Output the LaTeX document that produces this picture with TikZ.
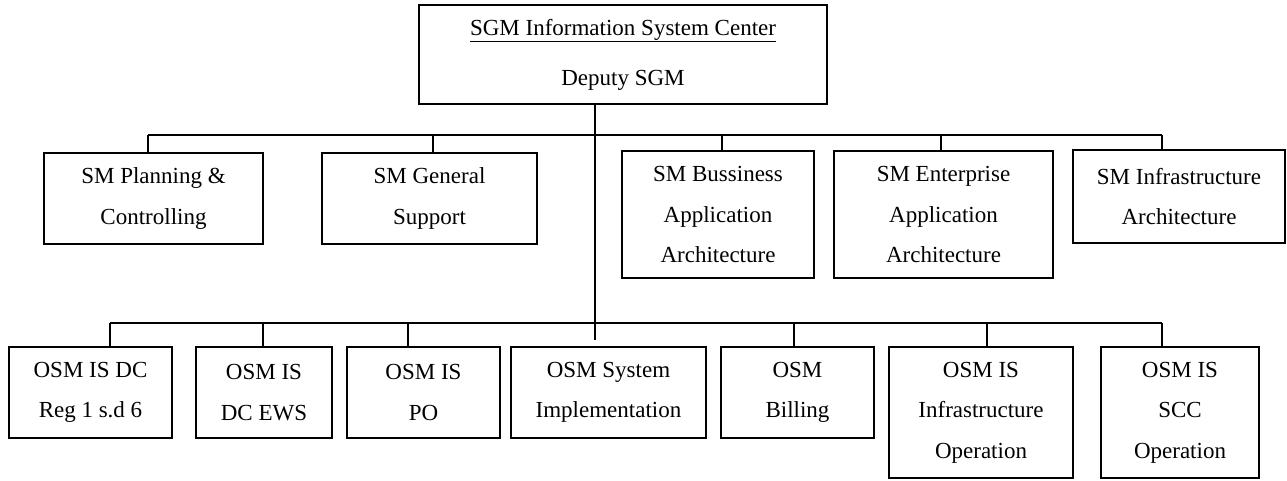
\documentclass[tikz,border=0pt]{standalone}
\usepackage{fontspec}
\setmainfont{Liberation Serif}
\begin{document}
\begin{tikzpicture}[x=1pt,y=-1pt,
  box/.style={draw, line width=1.5pt, inner sep=0pt, align=center, font=\fontsize{23}{40.5}\selectfont},
  conn/.style={line width=1.5pt}]
\useasboundingbox (0,0) rectangle (1287,481);
\node[box, minimum width=408, minimum height=99, font=\fontsize{23}{50}\selectfont] (top) at (623,54.5) {\underline{SGM Information System Center}\\Deputy SGM};
% row 2
\node[box, minimum width=219, minimum height=91] (b1) at (153.5,198.5) {SM Planning \&\\Controlling};
\node[box, minimum width=215, minimum height=91] (b2) at (429.5,198.5) {SM General\\Support};
\node[box, minimum width=192, minimum height=127] (b3) at (718,214.5) {SM Bussiness\\Application\\Architecture};
\node[box, minimum width=219, minimum height=127] (b4) at (943.5,214.5) {SM Enterprise\\Application\\Architecture};
\node[box, minimum width=212, minimum height=93] (b5) at (1179,196.5) {SM Infrastructure\\Architecture};
% row 3
\node[box, minimum width=163, minimum height=91] (c1) at (90.5,392.5) {OSM IS DC\\Reg 1 s.d 6};
\node[box, minimum width=136, minimum height=91] (c2) at (264,392.5) {OSM IS\\DC EWS};
\node[box, minimum width=153, minimum height=91] (c3) at (423.5,392.5) {OSM IS\\PO};
\node[box, minimum width=195, minimum height=91] (c4) at (608.5,392.5) {OSM System\\Implementation};
\node[box, minimum width=153, minimum height=91] (c5) at (797.5,392.5) {OSM\\Billing};
\node[box, minimum width=184, minimum height=131] (c6) at (981,412.5) {OSM IS\\Infrastructure\\Operation};
\node[box, minimum width=158, minimum height=131] (c7) at (1180,412.5) {OSM IS\\SCC\\Operation};
% junctions
\coordinate (v2) at (595,135);
\coordinate (vend) at (595,340);
\coordinate (d1) at (148,135);
\coordinate (d2) at (433,135);
\coordinate (d3) at (722,135);
\coordinate (d4) at (941,135);
\coordinate (d5) at (1162,135);
\coordinate (e1) at (110,323);
\coordinate (e2) at (263,323);
\coordinate (e3) at (408,323);
\coordinate (e5) at (794,323);
\coordinate (e6) at (987,323);
\coordinate (e7) at (1162,323);
% connectors
\draw[conn] (top.south -| v2) -- (vend);
\draw[conn] (d1) -- (d5);
\draw[conn] (e1) -- (e7);
\draw[conn] (d1) -- (d1 |- b1.north);
\draw[conn] (d2) -- (d2 |- b2.north);
\draw[conn] (d3) -- (d3 |- b3.north);
\draw[conn] (d4) -- (d4 |- b4.north);
\draw[conn] (d5) -- (d5 |- b5.north);
\draw[conn] (e1) -- (e1 |- c1.north);
\draw[conn] (e2) -- (e2 |- c2.north);
\draw[conn] (e3) -- (e3 |- c3.north);
\draw[conn] (e5) -- (e5 |- c5.north);
\draw[conn] (e6) -- (e6 |- c6.north);
\draw[conn] (e7) -- (e7 |- c7.north);
\end{tikzpicture}
\end{document}
